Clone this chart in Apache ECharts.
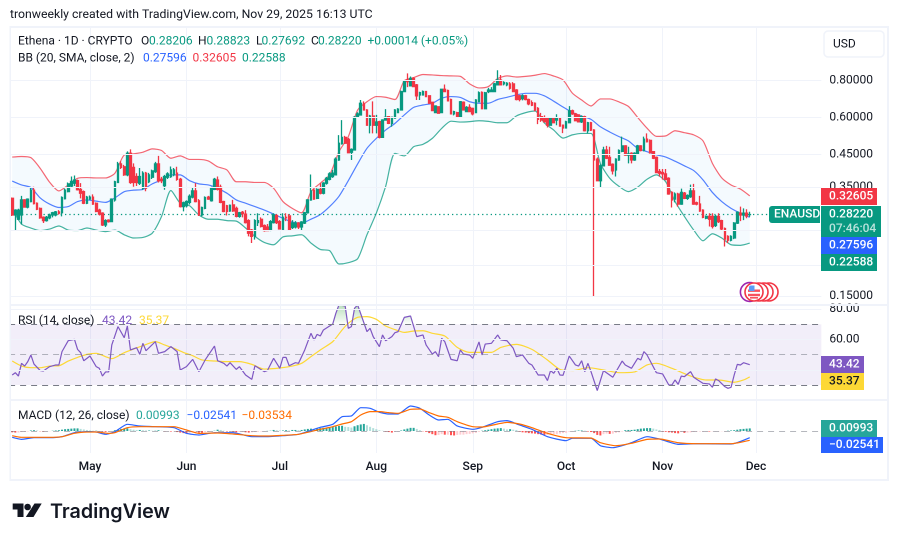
<!DOCTYPE html>
<html><head><meta charset="utf-8">
<style>html,body{margin:0;padding:0;background:#fff}#c{width:898px;height:541px}</style>
<script src="https://cdn.jsdelivr.net/npm/echarts@6/dist/echarts.min.js"></script>
</head><body><div id="c"></div>
<script>
// [open, close, low, high], one row per day from 2025-04-06
const candles=[
[.320,.281,.279,.322],[.281,.292,.250,.294],[.272,.292,.270,.295],[.281,.316,.261,.326],[.316,.299,.298,.318],[.299,.318,.296,.320],[.312,.341,.310,.349],[.341,.307,.305,.350],[.308,.294,.292,.310],[.296,.275,.273,.298],
[.276,.269,.264,.278],[.269,.276,.267,.279],[.275,.281,.272,.284],[.281,.286,.276,.288],[.281,.288,.278,.290],[.288,.285,.282,.292],[.286,.322,.278,.325],[.319,.341,.317,.345],[.337,.358,.335,.362],[.352,.365,.349,.379],
[.360,.369,.352,.382],[.367,.342,.340,.370],[.343,.333,.320,.360],[.337,.308,.306,.340],[.308,.323,.306,.326],[.318,.323,.316,.327],[.323,.306,.304,.330],[.308,.289,.287,.310],[.292,.283,.280,.295],[.285,.260,.258,.287],
[.260,.269,.256,.272],[.270,.267,.265,.272],[.267,.318,.266,.320],[.316,.364,.312,.367],[.362,.418,.360,.425],[.418,.407,.402,.427],[.409,.384,.381,.415],[.384,.454,.380,.461],[.454,.362,.358,.468],[.407,.362,.350,.420],
[.379,.362,.352,.389],[.360,.379,.355,.405],[.346,.389,.342,.395],[.389,.346,.338,.393],[.364,.384,.360,.390],[.377,.396,.372,.400],[.394,.418,.390,.425],[.418,.367,.362,.445],[.371,.367,.360,.378],[.353,.379,.342,.384],
[.377,.387,.372,.392],[.379,.399,.375,.410],[.384,.399,.380,.405],[.389,.371,.367,.409],[.371,.300,.298,.375],[.300,.309,.289,.312],[.302,.312,.298,.315],[.310,.325,.305,.330],[.323,.339,.320,.349],[.339,.312,.310,.360],
[.314,.281,.279,.318],[.281,.298,.278,.300],[.296,.322,.294,.325],[.323,.318,.316,.326],[.314,.346,.312,.350],[.343,.371,.341,.375],[.369,.343,.340,.379],[.349,.310,.308,.356],[.312,.289,.287,.314],[.302,.289,.280,.304],
[.290,.303,.288,.305],[.304,.290,.288,.316],[.296,.278,.276,.300],[.278,.286,.275,.288],[.287,.284,.276,.290],[.283,.265,.263,.292],[.269,.244,.238,.272],[.250,.238,.226,.252],[.238,.269,.232,.272],[.265,.269,.258,.285],
[.272,.257,.255,.276],[.259,.249,.247,.261],[.256,.249,.248,.262],[.250,.267,.248,.270],[.265,.281,.263,.285],[.280,.265,.262,.283],[.267,.252,.251,.270],[.251,.276,.250,.285],[.276,.275,.268,.285],[.279,.251,.250,.283],
[.255,.264,.252,.270],[.256,.264,.253,.268],[.264,.256,.252,.266],[.256,.266,.250,.268],[.264,.286,.262,.288],[.286,.316,.284,.318],[.316,.339,.314,.385],[.341,.318,.316,.345],[.320,.343,.318,.346],[.343,.333,.330,.360],
[.333,.360,.330,.363],[.360,.374,.356,.378],[.371,.387,.368,.392],[.379,.389,.375,.399],[.384,.434,.382,.440],[.431,.491,.428,.523],[.489,.514,.486,.588],[.514,.491,.488,.520],[.506,.456,.454,.512],[.458,.468,.431,.472],
[.466,.601,.464,.606],[.601,.617,.598,.625],[.612,.670,.610,.687],[.667,.636,.633,.680],[.636,.565,.563,.640],[.565,.607,.530,.612],[.607,.565,.530,.680],[.565,.579,.530,.612],[.581,.514,.510,.585],[.514,.588,.512,.592],
[.588,.601,.585,.640],[.604,.573,.570,.607],[.573,.601,.558,.604],[.597,.636,.594,.640],[.623,.640,.620,.645],[.636,.734,.634,.740],[.734,.793,.730,.800],[.803,.793,.760,.845],[.767,.813,.765,.825],[.813,.763,.760,.820],
[.773,.710,.687,.778],[.715,.728,.687,.733],[.715,.734,.712,.740],[.734,.706,.703,.737],[.710,.670,.667,.713],[.675,.633,.630,.678],[.623,.656,.620,.660],[.652,.620,.617,.655],[.623,.747,.620,.750],[.747,.734,.730,.775],
[.740,.683,.680,.745],[.690,.617,.614,.695],[.617,.628,.610,.632],[.623,.604,.600,.627],[.604,.678,.601,.682],[.675,.636,.633,.680],[.628,.649,.625,.655],[.649,.628,.625,.665],[.644,.617,.610,.648],[.623,.687,.620,.692],
[.678,.727,.675,.735],[.729,.642,.640,.735],[.642,.727,.640,.732],[.734,.743,.725,.755],[.734,.743,.730,.760],[.734,.779,.730,.785],[.773,.803,.770,.866],[.803,.773,.770,.835],[.779,.787,.770,.795],[.773,.783,.765,.790],
[.779,.753,.745,.790],[.779,.734,.730,.790],[.743,.690,.685,.748],[.710,.690,.680,.715],[.695,.710,.685,.718],[.710,.690,.685,.715],[.690,.667,.660,.695],[.673,.660,.655,.685],[.670,.636,.630,.675],[.644,.591,.570,.650],
[.604,.588,.580,.622],[.599,.580,.577,.610],[.596,.565,.555,.600],[.565,.596,.562,.600],[.596,.576,.573,.598],[.588,.596,.565,.615],[.596,.561,.558,.598],[.565,.553,.531,.568],[.553,.580,.550,.585],[.576,.632,.573,.655],
[.632,.617,.612,.638],[.617,.585,.582,.622],[.612,.580,.578,.615],[.580,.604,.575,.610],[.604,.541,.538,.608],[.541,.576,.530,.580],[.576,.544,.540,.580],[.544,.431,.149,.548],[.434,.367,.365,.440],[.367,.412,.349,.417],
[.412,.466,.410,.478],[.466,.437,.434,.481],[.440,.414,.412,.478],[.417,.396,.385,.420],[.399,.434,.379,.437],[.431,.464,.428,.468],[.461,.481,.458,.517],[.481,.448,.445,.484],[.448,.452,.420,.478],[.454,.431,.420,.458],
[.431,.454,.428,.458],[.452,.481,.449,.485],[.481,.464,.461,.484],[.464,.507,.461,.517],[.507,.497,.494,.530],[.502,.456,.453,.506],[.460,.437,.434,.462],[.440,.391,.389,.443],[.394,.389,.379,.402],[.391,.387,.370,.402],
[.387,.371,.368,.402],[.374,.331,.329,.377],[.335,.316,.298,.338],[.318,.331,.310,.335],[.331,.306,.300,.334],[.306,.335,.304,.345],[.333,.320,.318,.336],[.320,.327,.316,.330],[.324,.339,.321,.356],[.339,.306,.304,.358],
[.309,.306,.303,.312],[.306,.290,.288,.326],[.292,.276,.274,.294],[.274,.278,.272,.280],[.278,.272,.257,.285],[.278,.257,.253,.285],[.259,.278,.256,.281],[.278,.267,.264,.285],[.269,.252,.250,.271],[.253,.233,.220,.255],
[.238,.231,.226,.240],[.231,.238,.229,.240],[.235,.264,.233,.266],[.264,.287,.262,.289],[.285,.281,.268,.300],[.281,.285,.270,.296],[.285,.279,.274,.294],[.28206,.2822,.27692,.28823]];

// Bollinger readings, taken every third day
const bbUpper=[.441,.443,.439,.404,.363,.339,.355,.374,.376,.375,.375,.389,.448,.452,.458,.470,.464,.437,.445,.433,.433,.428,.409,.399,.364,.364,.362,.362,.346,.312,.296,
.286,.337,.360,.384,.460,.517,.636,.678,.706,.702,.690,.799,.818,.838,.835,.831,.829,.826,.779,.755,.763,.812,.829,.822,.826,.833,.844,
.828,.803,.725,.687,.656,.693,.693,.677,.654,.600,.552,.518,.520,.541,.533,.524,.500,.420,.375,.355,.344,.32605];
const bbBasis=[.366,.355,.348,.321,.306,.298,.300,.312,.316,.313,.310,.321,.337,.341,.343,.358,.369,.384,.384,.367,.358,.355,.346,.333,.316,.308,.300,.292,.283,.274,.266,
.264,.272,.282,.300,.325,.367,.418,.472,.510,.544,.573,.612,.649,.661,.670,.697,.706,.701,.678,.670,.670,.690,.702,.715,.724,.724,.710,
.681,.651,.624,.606,.591,.558,.536,.517,.500,.472,.460,.449,.441,.427,.412,.397,.369,.335,.312,.296,.285,.27596];
const bbLower=[.296,.262,.254,.249,.252,.258,.250,.249,.254,.250,.247,.250,.241,.235,.236,.244,.278,.340,.308,.302,.281,.272,.272,.269,.268,.254,.238,.227,.223,.237,.239,
.241,.226,.215,.213,.192,.194,.200,.241,.285,.351,.454,.445,.478,.487,.510,.551,.583,.579,.581,.585,.582,.576,.576,.607,.623,.631,.575,
.544,.511,.524,.530,.530,.420,.374,.351,.337,.349,.371,.384,.364,.312,.278,.250,.230,.243,.235,.223,.222,.22588];

// RSI turning points: day number since the first candle, and value
const rsiDays=[0,1,2,3,4,5,6,7,9,10,12,14,15,16,18,20,21,22,23,25,27,28,29,30,31,32,34,36,37,38,40,41,42,43,46,47,49,51,53,54,56,58,60,62,65,66,68,69,70,72,73,75,77,78,81,82,84,86,87,88,89,91,92,94,96,97,98,99,100,103,104,105,107,108,109,110,111,114,115,116,118,119,120,122,
123,124,126,128,130,132,133,135,136,137,138,139,141,143,144,145,147,148,150,151,152,154,156,157,159,161,162,164,166,167,169,171,172,173,174,175,176,177,179,181,182,183,184,185,186,188,190,193,196,197,199,201,202,203,204,207,209,211,212,213,214,215,216,218,219,220,222,224,225,226,227,229,230,231,232,233,234,235,237];
const rsiValues=[36.6,38.1,35.9,44.3,42.5,45.4,49.8,43.8,39.5,39.2,42.1,43.2,43.2,52,59.2,60.1,53.5,51.3,46,49.1,42.1,41,35.9,38.6,38.6,56.4,68.5,61.2,68.9,53.1,54.6,50.2,57.5,52.6,58.6,50.9,52,55.3,52,39.9,42.1,46.9,38.8,46.5,55.7,46,44.3,42.5,44.7,40.3,42.1,36.6,33.7,42.7,38.8,39.5,47.6,41,48.2,48.2,42.7,44.7,44.3,53.1,64.1,59.7,63.4,62.3,66.3,70.2,77.3,82.8,82.1,67.4,68.5,80.6,82.8,65.2,67.4,61.9,55.3,63,59.2,61.9,
64.5,65.2,74.6,75.5,61.9,63,56.4,50.4,52,48.7,60.8,58.6,46.9,46,53.1,50.4,49.8,47.6,58.4,49.8,57,57.5,63,59.7,59.2,54.2,48.7,49.8,44.3,43.2,36.6,36.6,32.9,39.5,37.7,41,36.6,36.4,49.1,43.2,42.5,46,38.8,44.3,38.8,26.3,39.5,35.1,45.8,43.2,41,47.6,46.5,52,49.8,38.1,37.3,30,30,33.3,30.4,35.9,35.5,38.8,35.1,33.7,31.1,30.7,28.5,34,32.9,28.9,27.8,28.5,36.6,43.6,43.2,44.7,43.42];
// RSI above 70, for the shaded overbought humps
const rsiHotDays=[103,104,105,107,108,109,110,111,113,125,126,128,129];
const rsiHotValues=[70,77.3,82.8,82.1,70,70,80.6,82.8,70,70,74.6,75.5,70];

const rsiMaDays=[0,3,6,9,12,15,18,21,24,27,30,32,36,39,42,46,49,52,55,58,61,65,69,73,77,81,86,90,93,96,99,103,106,108,111,114,117,120,124,126,129,132,135,139,143,147,150,154,157,162,167,172,176,180,185,190,195,200,204,207,212,218,223,227,232,235,237];
const rsiMaValues=[45.8,42.5,41.4,41.4,42.5,42.7,45.8,48.2,50.2,50.9,48.7,47.4,51.3,53.7,55.9,58.6,56.4,54.2,51.5,49.3,46.5,45.8,45.4,45.4,43.6,40.5,41.2,42.5,44.3,48.7,53.1,58.6,66.3,70.7,74.6,75.1,73.3,68.9,65.8,64.7,65.6,65.8,64.1,62.3,54.8,51.5,51.5,51.5,54.8,56.8,53.5,46.5,40.3,39.5,41.4,39.9,38.1,38.6,43.2,44.3,41,35.9,33.3,33.3,31.8,33.3,35.37];

const macdDays=[0,3,7,12,16,20,24,27,30,33,37,41,46,52,56,60,65,71,77,82,87,92,99,103,106,109,112,115,118,121,124,128,131,134,137,140,143,148,151,156,159,163,167,172,178,180,186,189,193,199,204,208,214,220,231,237];
const macdValues=[-.0241,-.0318,-.0254,-.0254,-.0216,-.0064,-.0025,-.0038,-.0127,-.0025,.0254,.0191,.0165,.0127,-.0089,-.0152,-.0064,-.0064,-.0216,-.0216,-.0178,-.0127,.014,.0254,.0546,.0572,.0889,.0864,.0711,.0648,.0648,.0953,.0864,.061,.0419,.0445,.0191,.0064,.014,.0356,.0394,.0229,.0064,-.0216,-.0368,-.0279,-.0279,-.0559,-.0635,-.0445,-.0216,-.0305,-.0508,-.0483,-.0495,-.02541];
const signalDays=[0,3,7,12,16,20,24,27,31,33,37,41,46,52,56,60,66,71,77,82,87,92,99,103,106,109,112,115,118,121,124,128,131,134,137,140,143,148,151,156,159,163,167,172,178,186,189,194,199,204,208,214,220,231,237];
const signalValues=[-.0178,-.0241,-.0241,-.0241,-.0216,-.0089,-.0038,-.0038,-.0089,-.0064,.0127,.0165,.0165,.0165,.0038,-.0089,-.0076,-.0114,-.0178,-.0191,-.0165,-.0127,.0064,.0165,.0267,.0356,.061,.0737,.0737,.0699,.0673,.0826,.0838,.0699,.0572,.0521,.0356,.0165,.0152,.0267,.033,.0267,.0127,-.0089,-.0254,-.0267,-.0445,-.0559,-.047,-.0318,-.0305,-.0445,-.0483,-.0483,-.03534];
const histogram=[
-.005,-.006,-.006,-.004,-.003,-.002,.002,.003,.002,-.001,
-.002,-.001,-.001,.001,.002,.003,.005,.007,.008,.009,
.010,.010,.008,.006,.004,.002,.001,.001,-.001,-.002,
-.003,-.002,-.001,.003,.006,.008,.010,.010,.007,.005,
.004,.004,.003,.002,.002,.001,.001,.003,.001,-.001,
-.001,-.002,-.002,-.004,-.006,-.008,-.009,-.007,-.005,-.003,
-.006,-.007,-.005,-.003,-.001,.001,.005,.004,.001,-.002,
-.002,-.003,-.005,-.004,-.004,-.005,-.006,-.005,-.004,-.003,
-.002,-.001,.0005,.001,.004,.003,.002,.002,.003,.002,
.004,.004,.003,.004,.006,.008,.009,.008,.009,.011,
.012,.012,.013,.015,.017,.019,.020,.016,.015,.013,
.018,.022,.025,.027,.022,.016,.011,.007,.003,.001,
-.002,-.004,-.006,-.003,-.002,.002,.006,.009,.012,.012,
.008,.003,-.001,-.003,-.008,-.012,-.016,-.015,-.012,-.014,
-.014,-.016,-.017,-.015,-.014,-.014,-.012,-.011,-.009,-.007,
-.003,.001,.003,.005,.007,.009,.010,.011,.009,.006,
.007,.005,.004,-.002,-.005,-.006,-.008,-.009,-.010,-.012,
-.014,-.015,-.015,-.012,-.012,-.012,-.010,-.008,-.007,-.003,
-.001,.001,.002,.002,.001,-.002,-.004,-.008,-.015,-.017,
-.012,-.010,-.011,-.010,-.007,-.005,-.002,.003,.004,.004,
.005,.007,.009,.010,.011,.011,.009,.006,.004,-.002,
-.003,-.005,-.006,-.008,-.009,-.004,-.007,-.006,-.005,-.003,
-.002,-.002,-.002,-.001,-.002,-.001,-.001,-.001,-.001,-.001,
.001,.002,.003,.005,.007,.008,.009,.00993];

const priceTicks=[0.8,0.6,0.45,0.35,0.25,0.19,0.15];
const rsiGridTicks=[80,60,40];
const lastClose=0.2822;
const monthNames=['Jan','Feb','Mar','Apr','May','Jun','Jul','Aug','Sep','Oct','Nov','Dec'];

// category axis: every day shown on the chart, beginning the day before the first candle
const days=[];
for(let i=0;i<262;i++){days.push(new Date(Date.UTC(2025,3,5+i)).toISOString().slice(0,10));}
const pos=d=>d+1; // candle day -> category index
const pairs=(ds,vs)=>ds.map((d,i)=>[pos(d),vs[i]]);
const bbDays=bbUpper.map((_,i)=>i*3);
const isFirst=(idx,val)=>val.slice(8)==='01';

const FONT='Roboto, "Liberation Sans", sans-serif';
const UP='#089981',DOWN='#F23645',BLUE='#2962FF',PURPLE='#7E57C2',YEL='#FDD835',ORG='#FF6D00',GRID='#F0F3FA',INK='#131722';

const L=9.09,W=3.112*261;
const xBase=(gi,show)=>({type:'category',gridIndex:gi,data:days,boundaryGap:false,
  axisLine:{show:false},axisTick:{show:false},
  axisLabel:show?{show:true,interval:isFirst,margin:8,hideOverlap:false,color:INK,fontFamily:FONT,fontSize:12,fontWeight:500,
    formatter:v=>monthNames[+v.slice(5,7)-1]}:{show:false},
  splitLine:{show:true,interval:isFirst,lineStyle:{color:GRID,width:1}}});
const yBase=(gi,extra)=>Object.assign({gridIndex:gi,position:'right',axisLine:{show:false},axisTick:{show:false},axisLabel:{show:false},splitLine:{show:false}},extra);

const tickLabel=fmt=>({show:true,position:'end',distance:8,padding:[2,0,0,0],formatter:p=>fmt(p.value),color:INK,fontFamily:FONT,fontSize:12});
const line=(name,x,y,data,color,width,extra)=>Object.assign({name,type:'line',xAxisIndex:x,yAxisIndex:y,data,showSymbol:false,symbol:'none',
  lineStyle:{color,width:width},itemStyle:{color},silent:true,animation:false},extra||{});

const series=[
  line('priceGrid',0,0,priceTicks.map(v=>[0,v]),GRID,1,{z:1,lineStyle:{opacity:0},markLine:{silent:true,symbol:'none',animation:false,
    lineStyle:{color:GRID,width:1,type:'solid'},label:tickLabel(v=>v.toFixed(5)),data:priceTicks.map(v=>({yAxis:v}))}}),
  {name:'bbBand',type:'custom',xAxisIndex:0,yAxisIndex:0,z:2,silent:true,animation:false,
   data:bbDays.map((d,i)=>[pos(d),bbLower[i],bbUpper[i]]),encode:{x:0,y:[1,2]},
   renderItem:(params,api)=>{ if(params.dataIndex!==0) return null;
     const up=bbDays.map((d,i)=>api.coord([pos(d),bbUpper[i]]));
     const lo=bbDays.map((d,i)=>api.coord([pos(d),bbLower[i]])).reverse();
     return {type:'polygon',shape:{points:up.concat(lo)},style:{fill:'rgba(33,150,243,0.05)'}};}},
  line('bbUpper',0,0,pairs(bbDays,bbUpper),'rgba(242,54,69,0.75)',1.2,{z:2,smooth:0.25}),
  line('bbLower',0,0,pairs(bbDays,bbLower),'rgba(8,153,129,0.75)',1.2,{z:2,smooth:0.25}),
  line('bbBasis',0,0,pairs(bbDays,bbBasis),BLUE,1,{z:2,smooth:0.25,lineStyle:{color:'rgba(41,98,255,0.8)',width:1.2}}),
  line('lastPrice',0,0,[[0,lastClose],[245,lastClose]],UP,1.3,{z:2,lineStyle:{color:UP,width:1.3,type:[1.3,3]}}),
  {name:'ENAUSD',type:'candlestick',xAxisIndex:0,yAxisIndex:0,large:false,barWidth:2.2,
   data:candles.map((c,i)=>[pos(i),c[0],c[1],c[2],c[3]]),encode:{x:0,y:[1,2,3,4]},
   itemStyle:{color:UP,color0:DOWN,borderColor:UP,borderColor0:DOWN,borderColorDoji:UP,borderWidth:1.3}},

  line('rsiHot',1,1,pairs(rsiHotDays,rsiHotValues),'#4CAF50',1,{z:2,lineStyle:{opacity:0},
    areaStyle:{origin:70,color:new echarts.graphic.LinearGradient(0,0,0,1,[{offset:0,color:'rgba(76,175,80,0.55)'},{offset:1,color:'rgba(76,175,80,0.02)'}])}}),
  line('rsi',1,1,pairs(rsiDays,rsiValues),PURPLE,1.2,{z:4,
    markArea:{silent:true,animation:false,itemStyle:{color:'rgba(126,87,194,0.1)'},data:[[{yAxis:30},{yAxis:70}]]},
    markLine:{silent:true,symbol:'none',animation:false,label:{show:false},
      data:[{yAxis:70,lineStyle:{color:'#787B86',width:1,type:[6,5]}},{yAxis:30,lineStyle:{color:'#787B86',width:1,type:[6,5]}},
            {yAxis:50,lineStyle:{color:'rgba(120,123,134,0.55)',width:1,type:[6,5]}}]}}),
  line('rsiMa',1,1,pairs(rsiMaDays,rsiMaValues),YEL,1.2,{z:3,smooth:0.25}),
  line('rsiGrid',1,1,rsiGridTicks.map(v=>[0,v]),GRID,1,{z:1,lineStyle:{opacity:0},markLine:{silent:true,symbol:'none',animation:false,
    lineStyle:{color:GRID,width:1,type:'solid'},label:tickLabel(v=>v.toFixed(2)),data:rsiGridTicks.map(v=>({yAxis:v}))}}),

  {name:'hist',type:'bar',xAxisIndex:2,yAxisIndex:2,z:2,silent:true,animation:false,barWidth:2,
   data:histogram.map((v,i)=>[pos(i),v]),
   itemStyle:{color:p=>{const i=p.dataIndex,v=histogram[i],pv=i?histogram[i-1]:0;
     return v>=0?(v>=pv?'#26A69A':'#B2DFDB'):(v<pv?'#FF5252':'#FFCDD2');}},
   markLine:{silent:true,symbol:'none',animation:false,label:{show:false},
     lineStyle:{color:'rgba(120,123,134,0.55)',width:1,type:[6,5]},data:[{yAxis:0}]}},
  line('macd',2,2,pairs(macdDays,macdValues),BLUE,1.2,{z:3,smooth:0.2}),
  line('signal',2,2,pairs(signalDays,signalValues),ORG,1.2,{z:4,smooth:0.2})
];

const T=(x,y,text,fill,o)=>Object.assign({type:'text',z:110,silent:true,x,y,style:Object.assign({text,fill,font:'12px '+FONT,textVerticalAlign:'middle'},o||{})});
const R=(x,y,w,h,fill,r)=>({type:'rect',z:105,silent:true,shape:{x,y,width:w,height:h,r:r||0},style:{fill}});
const graphicEls=[
  R(0,0,9.5,500,'#fff'),
  {type:'rect',z:100,silent:true,shape:{x:10,y:27,width:878,height:453},style:{fill:'none',stroke:GRID,lineWidth:2}},
  {type:'line',z:100,silent:true,shape:{x1:10,y1:305,x2:888,y2:305},style:{stroke:GRID,lineWidth:2}},
  {type:'line',z:100,silent:true,shape:{x1:10,y1:400,x2:888,y2:400},style:{stroke:GRID,lineWidth:2}},

  T(10,15,'tronweekly created with TradingView.com, Nov 29, 2025 16:13 UTC',INK,{font:'12.25px '+FONT}),
  T(18,41.5,'Ethena · 1D · CRYPTO',INK),T(141,41.5,'O',INK),T(149,41.5,'0.28206',UP),T(198,41.5,'H',INK),T(206.5,41.5,'0.28823',UP),
  T(256,41.5,'L',INK),T(261.5,41.5,'0.27692',UP),T(311,41.5,'C',INK),T(318,41.5,'0.28220',UP),T(367.5,41.5,'+0.00014 (+0.05%)',UP),
  T(18,58.5,'BB (20, SMA, close, 2)',INK),T(143,58.5,'0.27596',BLUE),T(192.5,58.5,'0.32605',DOWN),T(242,58.5,'0.22588',UP),
  T(18,321,'RSI (14, close)',INK),T(102,321,'43.42',PURPLE),T(139,321,'35.37',YEL),
  T(18,416,'MACD (12, 26, close)',INK),T(136,416,'0.00993','#26A69A'),T(186.5,416,'−0.02541',BLUE),T(241.5,416,'−0.03534',ORG),

  {type:'rect',z:105,silent:true,shape:{x:824,y:31,width:60,height:26,r:4},style:{fill:'#fff',stroke:GRID,lineWidth:1.5}},
  T(833,44.5,'USD',INK),

  R(769,206,51,17,UP,[3,0,0,3]),T(774,214.5,'ENAUSD','#fff',{font:'500 12px '+FONT}),
  R(821,188,56,17,DOWN),T(829,196.5,'0.32605','#fff',{font:'500 12px '+FONT}),
  R(821,206,60,31,UP),T(829,214.5,'0.28220','#fff',{font:'500 12px '+FONT}),T(829,229,'07:46:04','rgba(255,255,255,0.72)',{font:'500 12px '+FONT}),
  R(821,237,56,17,BLUE),T(829,245.5,'0.27596','#fff',{font:'500 12px '+FONT}),
  R(821,254,56,17,UP),T(829,262.5,'0.22588','#fff',{font:'500 12px '+FONT}),
  R(821,356,43,17,PURPLE),T(829,364.5,'43.42','#fff',{font:'500 12px '+FONT}),
  R(821,373,43,17,YEL),T(829,381.5,'35.37',INK,{font:'500 12px '+FONT}),
  R(821,420,56,17,'#26A69A'),T(829,428.5,'0.00993','#fff',{font:'500 12px '+FONT}),
  R(821,437,62,16,BLUE),T(829,445,'−0.02541','#fff',{font:'500 12px '+FONT}),

  // event badge
  {type:'circle',z:101,silent:true,shape:{cx:749.8,cy:292,r:9.4},style:{fill:'#fff',stroke:'#9C27B0',lineWidth:1.6}},
  {type:'circle',z:102,silent:true,shape:{cx:769,cy:292,r:9},style:{fill:'#fff',stroke:DOWN,lineWidth:1.6}},
  {type:'circle',z:102,silent:true,shape:{cx:764,cy:292,r:9},style:{fill:'#fff',stroke:DOWN,lineWidth:1.6}},
  {type:'circle',z:102,silent:true,shape:{cx:759,cy:292,r:9},style:{fill:'#fff',stroke:DOWN,lineWidth:1.6}},
  {type:'circle',z:103,silent:true,shape:{cx:754,cy:292,r:9},style:{fill:'#fff',stroke:DOWN,lineWidth:1.6}},
  {type:'rect',z:104,silent:true,shape:{x:748,y:289.5,width:12,height:2.4},style:{fill:'#F7525F'}},
  {type:'rect',z:104,silent:true,shape:{x:748,y:293.8,width:12,height:2.4},style:{fill:'#F7525F'}},
  {type:'rect',z:104,silent:true,shape:{x:750,y:297,width:8,height:1.6},style:{fill:'#F7525F'}},
  {type:'rect',z:104,silent:true,shape:{x:749,y:285.5,width:5.5,height:5.5,r:[2,0,0,0]},style:{fill:'#5B9CF6'}},

  // footer logo
  {type:'polygon',z:110,silent:true,shape:{points:[[12.7,503.5],[23.5,503.5],[23.5,517],[17.5,517],[17.5,509.5],[12.7,509.5]]},style:{fill:INK}},
  {type:'circle',z:110,silent:true,shape:{cx:27.6,cy:507,r:3.3},style:{fill:INK}},
  {type:'polygon',z:110,silent:true,shape:{points:[[34.5,503.5],[41.7,503.5],[33.5,517],[25.8,517]]},style:{fill:INK}},
  T(50,512,'TradingView',INK,{font:'600 19.7px Inter, '+FONT})
];

const chart=echarts.init(document.getElementById('c'),null,{renderer:'canvas',devicePixelRatio:2});
chart.setOption({animation:false,
  grid:[{left:L,width:W,top:28,height:277},{left:L,width:W,top:306,height:94},{left:L,width:W,top:401,height:52}],
  xAxis:[xBase(0,false),xBase(1,false),xBase(2,true)],
  yAxis:[yBase(0,{type:'log',min:0.1396,max:1.203}),
         yBase(1,{type:'value',min:20.1,max:82.1}),
         yBase(2,{type:'value',min:-0.0838,max:0.1143})],
  series,graphic:{elements:graphicEls}});
</script></body></html>
